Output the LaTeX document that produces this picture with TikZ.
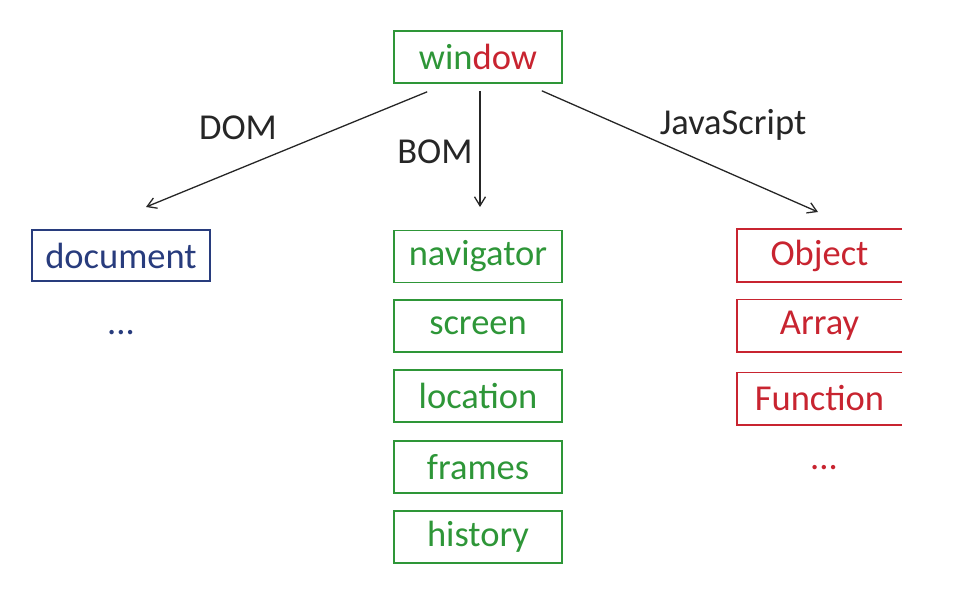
\documentclass[tikz,border=0pt]{standalone}
\usepackage{fontspec}
\setmainfont{Carlito}
\usetikzlibrary{arrows.meta}
\definecolor{bgreen}{RGB}{46,150,56}
\definecolor{bred}{RGB}{200,36,48}
\definecolor{bblue}{RGB}{40,60,125}
\begin{document}
\begin{tikzpicture}[x=1pt,y=-1pt,
  every node/.style={font=\fontsize{36.5}{40}\selectfont, inner sep=0pt},
  gbox/.style={draw=bgreen, line width=1.6pt, text=bgreen, minimum width=168pt, minimum height=52pt},
  bbox/.style={draw=bblue, line width=1.6pt, text=bblue, minimum width=178pt, minimum height=51pt},
  rbox/.style={text=bred, minimum width=165pt, minimum height=52pt},
  rside/.style={draw=bred, line width=1.6pt},
  conn/.style={draw=black!85, line width=1.3pt, -{Straight Barb[length=9pt,width=11pt]}},
  lbl/.style={text=black!85}]
\useasboundingbox (0,0) rectangle (954,591);
\node[gbox] (win) at (478,57) {\textcolor{bgreen}{win}\textcolor{bred}{dow}};
\node[bbox] (doc) at (121,255.5) {document};
\node[text=bblue] (docdots) at (121,333) {...};
\node[gbox] (nav) at (478,256.5) {navigator};
\node[gbox] (scr) at (478,326) {screen};
\node[gbox] (loc) at (478,396) {location};
\node[gbox] (fra) at (478,467) {frames};
\node[gbox] (his) at (478,537) {history};
\node[rbox] (obj) at (819.5,255.5) {Object};
\node[rbox] (arr) at (819.5,325.5) {Array};
\node[rbox] (fun) at (819.5,398.5) {Function};
\node[text=bred] (jsdots) at (824,468) {...};
\foreach \n in {obj,arr,fun}{
  \draw[rside] (\n.north east) -- (\n.north west) -- (\n.south west) -- (\n.south east);
}
\coordinate (domend) at (146,207);
\coordinate (bomend) at (480,207);
\coordinate (jsend) at (818,212);
\draw[conn] (win.south west) ++(34,8) -- (domend);
\draw[conn] (480,91) -- (bomend);
\draw[conn] (win.south east) ++(-21,7) -- (jsend);
\node[lbl] (domlbl) at (238,128) {DOM};
\node[lbl] (bomlbl) at (435,152) {BOM};
\node[lbl] (jslbl) at (733,125) {JavaScript};
\end{tikzpicture}
\end{document}
